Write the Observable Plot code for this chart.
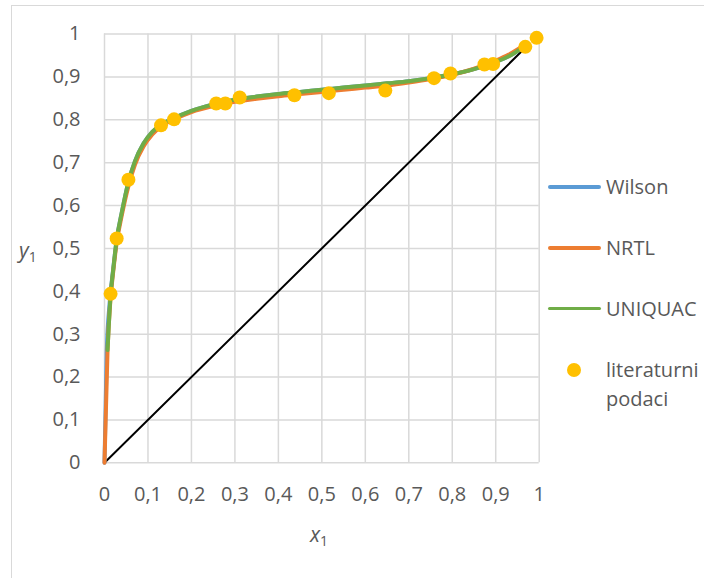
<!DOCTYPE html>
<html>
<head>
<meta charset="utf-8">
<script src="https://cdn.jsdelivr.net/npm/d3@7"></script>
<script src="https://cdn.jsdelivr.net/npm/@observablehq/plot@0.6"></script>
<style>
  html, body { margin: 0; padding: 0; background: #fff; }
  #wrap { position: relative; width: 704px; height: 578px; overflow: hidden; font-family: "Open Sans", sans-serif; color: #595959; }
  #box { position: absolute; left: 11px; top: 5px; width: 2000px; height: 2000px; border-left: 1.5px solid #D9D9D9; border-top: 1.5px solid #D9D9D9; }
  #chart { position: absolute; left: 0; top: 0; }
  .lab { position: absolute; font-size: 21px; line-height: 1; white-space: nowrap; }
  .lab sub { font-size: 14px; vertical-align: -4px; font-style: normal; }
  .leg { position: absolute; font-size: 20px; line-height: 29px; white-space: nowrap; }
  .sw { position: absolute; height: 3.5px; width: 53px; border-radius: 2px; }
  .dot { position: absolute; width: 14px; height: 14px; border-radius: 50%; background: #FFC000; }
</style>
</head>
<body>
<div id="wrap">
  <div id="box"></div>
  <div id="chart"></div>
</div>
<script>
// ---- data ----
const litX = [0.014, 0.028, 0.055, 0.130, 0.160, 0.257, 0.278, 0.311, 0.437, 0.516, 0.646, 0.758, 0.796, 0.874, 0.894, 0.968, 0.994];
const litY = [0.394, 0.523, 0.660, 0.787, 0.801, 0.838, 0.838, 0.852, 0.857, 0.862, 0.868, 0.897, 0.908, 0.929, 0.930, 0.970, 0.991];

const wilsonX = [0, 0.005, 0.012, 0.02, 0.028, 0.04, 0.055, 0.07, 0.09, 0.11, 0.13, 0.16, 0.2, 0.25, 0.3, 0.35, 0.4, 0.45, 0.5, 0.55, 0.6, 0.65, 0.7, 0.75, 0.8, 0.85, 0.9, 0.93, 0.963];
const wilsonY = [0, 0.255, 0.375, 0.452, 0.520, 0.585, 0.655, 0.703, 0.745, 0.772, 0.788, 0.804, 0.821, 0.836, 0.847, 0.854, 0.860, 0.865, 0.870, 0.875, 0.880, 0.885, 0.890, 0.897, 0.906, 0.918, 0.935, 0.948, 0.969];

const nrtlX = [0, 0.007, 0.014, 0.02, 0.028, 0.04, 0.055, 0.07, 0.09, 0.11, 0.13, 0.16, 0.2, 0.25, 0.3, 0.35, 0.4, 0.45, 0.5, 0.55, 0.6, 0.65, 0.7, 0.75, 0.8, 0.85, 0.9, 0.93, 0.963];
const nrtlY = [0, 0.262, 0.385, 0.445, 0.513, 0.578, 0.645, 0.695, 0.738, 0.766, 0.784, 0.801, 0.818, 0.832, 0.842, 0.849, 0.855, 0.860, 0.865, 0.870, 0.875, 0.880, 0.887, 0.895, 0.905, 0.919, 0.938, 0.952, 0.972];

const uniquacX = [0.007, 0.014, 0.02, 0.028, 0.04, 0.055, 0.07, 0.09, 0.11, 0.13, 0.16, 0.2, 0.25, 0.3, 0.35, 0.4, 0.45, 0.5, 0.55, 0.6, 0.65, 0.7, 0.75, 0.8, 0.85, 0.9, 0.93, 0.963];
const uniquacY = [0.263, 0.390, 0.450, 0.520, 0.585, 0.655, 0.703, 0.745, 0.772, 0.788, 0.804, 0.821, 0.836, 0.847, 0.854, 0.860, 0.865, 0.870, 0.875, 0.880, 0.885, 0.890, 0.897, 0.906, 0.918, 0.935, 0.948, 0.969];

const diagX = [0, 0.958];
const diagY = [0, 0.958];

const ticks = [0, 0.1, 0.2, 0.3, 0.4, 0.5, 0.6, 0.7, 0.8, 0.9, 1];
const tickLabels = ["0", "0,1", "0,2", "0,3", "0,4", "0,5", "0,6", "0,7", "0,8", "0,9", "1"];

const seriesNames = ["Wilson", "NRTL", "UNIQUAC", "literaturni podaci"];
const seriesColors = ["#5B9BD5", "#ED7D31", "#70AD47", "#FFC000"];

// ---- build tables ----
const toRows = (xs, ys) => xs.map((x, i) => ({x, y: ys[i]}));
const wilson = toRows(wilsonX, wilsonY);
const nrtl = toRows(nrtlX, nrtlY);
const uniquac = toRows(uniquacX, uniquacY);
const lit = toRows(litX, litY);
const diag = toRows(diagX, diagY);
const fmt = d => tickLabels[ticks.findIndex(t => Math.abs(t - d) < 1e-9)];

const chart = Plot.plot({
  width: 704,
  height: 578,
  marginLeft: 104,
  marginRight: 165.3,
  marginTop: 33.5,
  marginBottom: 115.7,
  style: {fontFamily: "'Open Sans', sans-serif", fontSize: "20px", color: "#595959", background: "transparent", overflow: "visible"},
  x: {domain: [0, 1], ticks, tickFormat: fmt},
  y: {domain: [0, 1], ticks, tickFormat: fmt},
  marks: [
    Plot.gridX(ticks, {stroke: "#D9D9D9", strokeOpacity: 1, strokeWidth: 1.5}),
    Plot.gridY(ticks, {stroke: "#D9D9D9", strokeOpacity: 1, strokeWidth: 1.5}),
    Plot.axisX(ticks, {tickSize: 0, tickPadding: 24, label: null, fontSize: 20, tickFormat: fmt}),
    Plot.axisY(ticks, {tickSize: 0, tickPadding: 24, label: null, fontSize: 20, tickFormat: fmt}),
    Plot.line(diag, {x: "x", y: "y", stroke: "#000", strokeWidth: 2}),
    Plot.line(wilson, {x: "x", y: "y", stroke: seriesColors[0], strokeWidth: 4, curve: "monotone-x"}),
    Plot.line(nrtl, {x: "x", y: "y", stroke: seriesColors[1], strokeWidth: 4, curve: "monotone-x"}),
    Plot.line(uniquac, {x: "x", y: "y", stroke: seriesColors[2], strokeWidth: 4, curve: "monotone-x"}),
    Plot.dot(lit, {x: "x", y: "y", r: 7, fill: seriesColors[3], stroke: "none"})
  ]
});
document.getElementById("chart").appendChild(chart);

// ---- legend and axis titles (HTML text) ----
const wrap = document.getElementById("wrap");
function add(html, cls, css) {
  const d = document.createElement("div");
  d.className = cls;
  d.innerHTML = html;
  Object.assign(d.style, css);
  wrap.appendChild(d);
  return d;
}
const legY = [187, 248, 308.5];
for (let i = 0; i < 3; i++) {
  add("", "sw", {left: "547.5px", top: (legY[i] - 1.75) + "px", background: seriesColors[i]});
  add(seriesNames[i], "leg", {left: "606px", top: (legY[i] - 15) + "px"});
}
add("", "dot", {left: "567px", top: "362.5px"});
add("literaturni<br>podaci", "leg", {left: "606px", top: "355px"});

add("<i>y</i><sub>1</sub>", "lab", {left: "19px", top: "240px"});
add("<i>x</i><sub>1</sub>", "lab", {left: "310px", top: "524px"});
</script>
</body>
</html>
